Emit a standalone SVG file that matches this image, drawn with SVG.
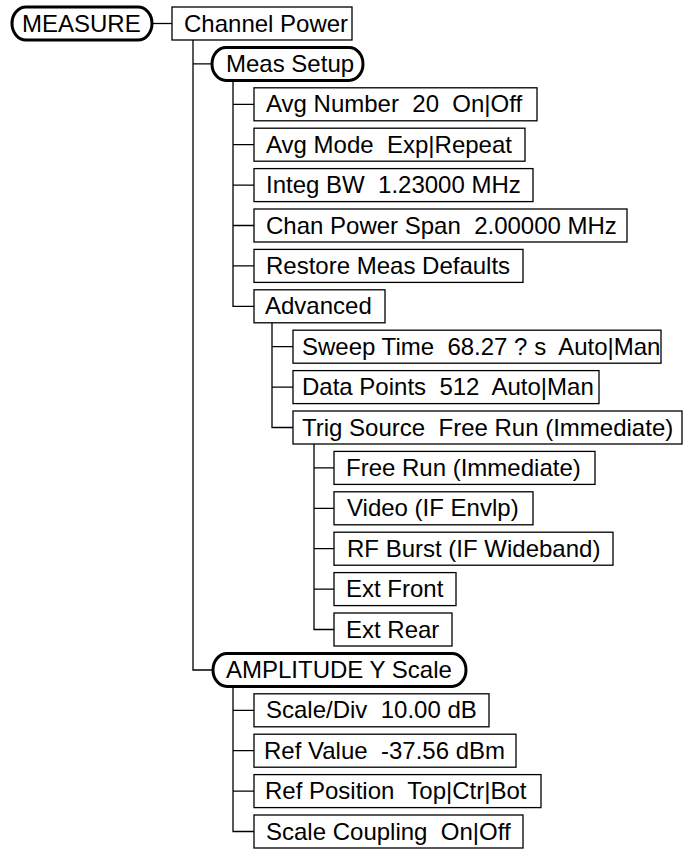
<svg xmlns="http://www.w3.org/2000/svg" width="685" height="850" viewBox="0 0 685 850">
<style>
  .box { fill: #ffffff; stroke: #000000; stroke-width: 1.3; }
  .pill { fill: #ffffff; stroke: #000000; stroke-width: 3; }
  .t { font-family: "Liberation Sans", Arial, sans-serif; font-size: 24px; fill: #000000; white-space: pre; }
  .c { fill: none; stroke: #000000; stroke-width: 1.3; }
</style>
<rect width="685" height="850" fill="#ffffff"/>
<g id="connectors">
  <path class="c" d="M152 23.5 H172"/>
  <path class="c" d="M193 40 V670 H213 M193 63.9 H212"/>
  <path class="c" d="M233 80.4 V306.3 H254 M233 104.3 H254 M233 144.7 H254 M233 185.1 H254 M233 225.5 H254 M233 265.9 H254"/>
  <path class="c" d="M272 322.8 V427.5 H293 M272 346.7 H293 M272 387.1 H293"/>
  <path class="c" d="M314 444 V629.5 H334 M314 467.9 H334 M314 508.3 H334 M314 548.7 H334 M314 589.1 H334"/>
  <path class="c" d="M233 686.9 V831.5 H254 M233 710.3 H254 M233 750.7 H254 M233 791.1 H254"/>
</g>
<g id="measure"><rect class="pill" x="12" y="7" width="140" height="33" rx="14" ry="16.5"/><text class="t" x="22" y="31.5">MEASURE</text></g>
<g id="channel-power"><rect class="box" x="172" y="7" width="180" height="33"/><text class="t" x="184" y="31.5">Channel Power</text></g>
<g id="meas-setup"><rect class="pill" x="212" y="47.4" width="151" height="33" rx="14" ry="16.5"/><text class="t" x="226" y="71.9">Meas Setup</text></g>
<g id="avg-number"><rect class="box" x="254" y="87.8" width="283" height="33"/><text class="t" x="266" y="112.3">Avg Number  20  On|Off</text></g>
<g id="avg-mode"><rect class="box" x="254" y="128.2" width="271" height="33"/><text class="t" x="266" y="152.7">Avg Mode  Exp|Repeat</text></g>
<g id="integ-bw"><rect class="box" x="254" y="168.6" width="279" height="33"/><text class="t" x="266" y="193.1">Integ BW  1.23000 MHz</text></g>
<g id="chan-power-span"><rect class="box" x="254" y="209" width="373" height="33"/><text class="t" x="266" y="233.5">Chan Power Span  2.00000 MHz</text></g>
<g id="restore"><rect class="box" x="254" y="249.4" width="269" height="33"/><text class="t" x="266" y="273.9">Restore Meas Defaults</text></g>
<g id="advanced"><rect class="box" x="254" y="289.8" width="131" height="33"/><text class="t" x="265" y="314.3">Advanced</text></g>
<g id="sweep-time"><rect class="box" x="293" y="330.2" width="368" height="33"/><text class="t" x="302" y="354.7">Sweep Time  68.27 ? s  Auto|Man</text></g>
<g id="data-points"><rect class="box" x="293" y="370.6" width="306" height="33"/><text class="t" x="302" y="395.1">Data Points  512  Auto|Man</text></g>
<g id="trig-source"><rect class="box" x="293" y="411" width="389" height="33"/><text class="t" x="302" y="435.5">Trig Source  Free Run (Immediate)</text></g>
<g id="free-run"><rect class="box" x="334" y="451.4" width="261" height="33"/><text class="t" x="346" y="475.9">Free Run (Immediate)</text></g>
<g id="video"><rect class="box" x="334" y="491.8" width="199" height="33"/><text class="t" x="347" y="516.3">Video (IF Envlp)</text></g>
<g id="rf-burst"><rect class="box" x="334" y="532.2" width="279" height="33"/><text class="t" x="347" y="556.7">RF Burst (IF Wideband)</text></g>
<g id="ext-front"><rect class="box" x="334" y="572.6" width="122" height="33"/><text class="t" x="346" y="597.1">Ext Front</text></g>
<g id="ext-rear"><rect class="box" x="334" y="613" width="118" height="33"/><text class="t" x="346" y="637.5">Ext Rear</text></g>
<g id="amplitude"><rect class="pill" x="213" y="653.4" width="253" height="33" rx="14" ry="16.5"/><text class="t" x="226" y="677.9">AMPLITUDE Y Scale</text></g>
<g id="scale-div"><rect class="box" x="254" y="693.8" width="235" height="33"/><text class="t" x="266" y="718.3">Scale/Div  10.00 dB</text></g>
<g id="ref-value"><rect class="box" x="254" y="734.2" width="262" height="33"/><text class="t" x="264" y="758.7">Ref Value  -37.56 dBm</text></g>
<g id="ref-position"><rect class="box" x="254" y="774.6" width="287" height="33"/><text class="t" x="265" y="799.1">Ref Position  Top|Ctr|Bot</text></g>
<g id="scale-coupling"><rect class="box" x="254" y="815" width="269" height="33"/><text class="t" x="266" y="839.5">Scale Coupling  On|Off</text></g>
</svg>
